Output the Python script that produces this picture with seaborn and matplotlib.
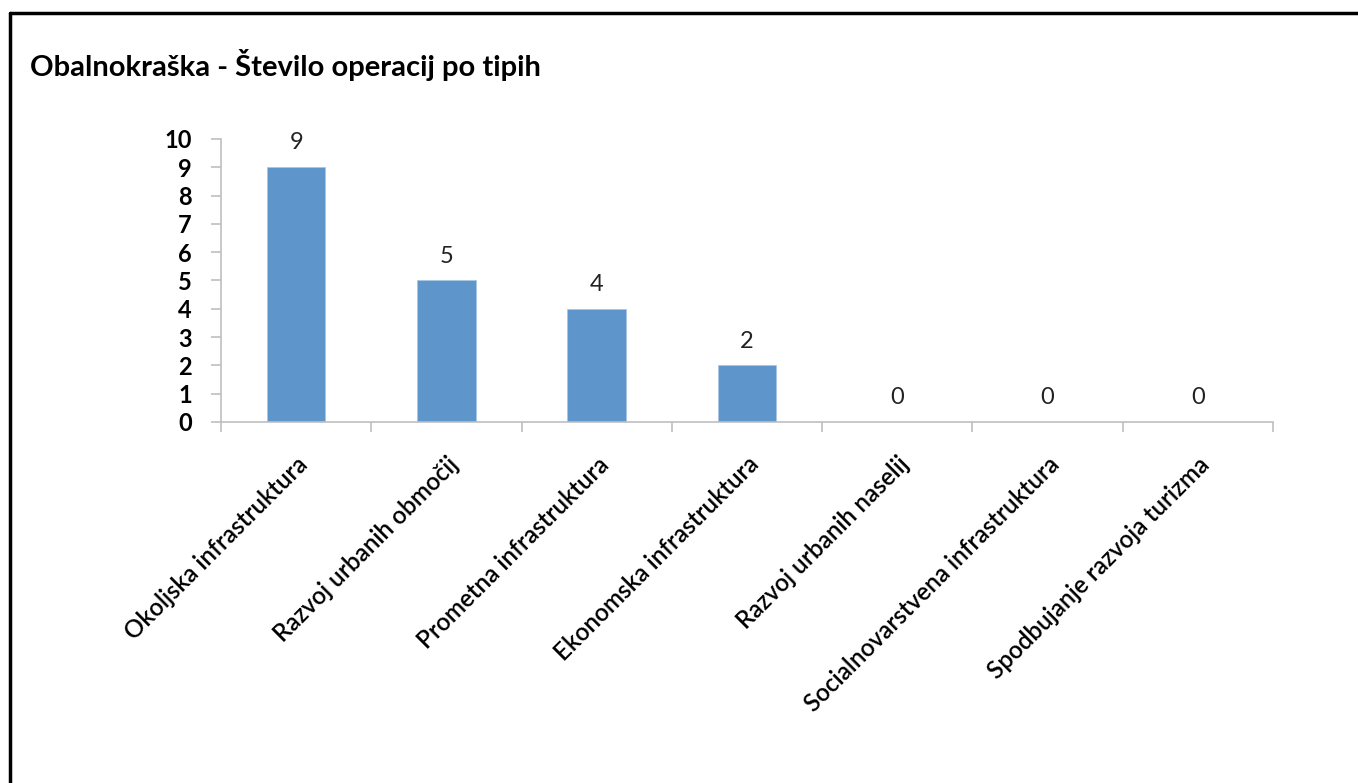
import matplotlib
matplotlib.use("Agg")
import matplotlib.pyplot as plt
import seaborn as sns
import pandas as pd
from matplotlib.lines import Line2D

categories = [
    "Okoljska infrastruktura",
    "Razvoj urbanih območij",
    "Prometna infrastruktura",
    "Ekonomska infrastruktura",
    "Razvoj urbanih naselij",
    "Socialnovarstvena infrastruktura",
    "Spodbujanje razvoja turizma",
]
values = [9, 5, 4, 2, 0, 0, 0]
y_ticks = list(range(0, 11))
title = "Obalnokraška - Število operacij po tipih"

sns.set_theme(style="white")
plt.rcParams['font.family'] = ['Lato', 'DejaVu Sans']

fig = plt.figure(figsize=(13.58, 7.83), dpi=100)
ax = fig.add_axes([221/1358, 1-422/783, (1273-221)/1358, (422-139)/783])

df = pd.DataFrame({"cat": categories, "val": values})
sns.barplot(data=df, x="cat", y="val", ax=ax, color="#5E95CB", width=0.39,
            saturation=1, edgecolor="#A9C6E4", linewidth=0.6)

ax.set_xlim(-0.5, len(categories) - 0.5)
ax.set_ylim(0, 10)
ax.set_yticks(y_ticks)
ax.set_yticklabels([str(t) for t in y_ticks], fontsize=17, fontweight='bold', color='black')
ax.set_xlabel("")
ax.set_ylabel("")

ax.set_xticks(range(len(categories)))
ax.set_xticklabels(categories, rotation=45, ha='right', rotation_mode='anchor',
                   fontsize=17.5, fontweight='semibold', color='black')
ax.set_xticks([i - 0.5 for i in range(len(categories) + 1)], minor=True)
ax.tick_params(axis='x', which='major', length=0, pad=22)
ax.tick_params(axis='x', which='minor', length=7, color='#BFBFBF', width=1.2, bottom=True)
ax.tick_params(axis='y', which='major', length=7, color='#BFBFBF', width=1.2, left=True, pad=14)

for s in ['top', 'right']:
    ax.spines[s].set_visible(False)
for s in ['left', 'bottom']:
    ax.spines[s].set_color('#BFBFBF')
    ax.spines[s].set_linewidth(1.2)

for c in ax.containers:
    ax.bar_label(c, labels=[str(v) for v in values], padding=10, fontsize=17, color='#222222')

fig.text(30/1358, 1-65/783, title, fontsize=21, fontweight='bold', va='center', ha='left', color='black')

# outer frame (top and left only visible)
fig.add_artist(Line2D([10/1358, 1], [1-13/783, 1-13/783], transform=fig.transFigure, color='black', lw=2.5))
fig.add_artist(Line2D([10/1358, 10/1358], [0, 1-13/783], transform=fig.transFigure, color='black', lw=2.5))

fig.savefig("out.png", dpi=100)
